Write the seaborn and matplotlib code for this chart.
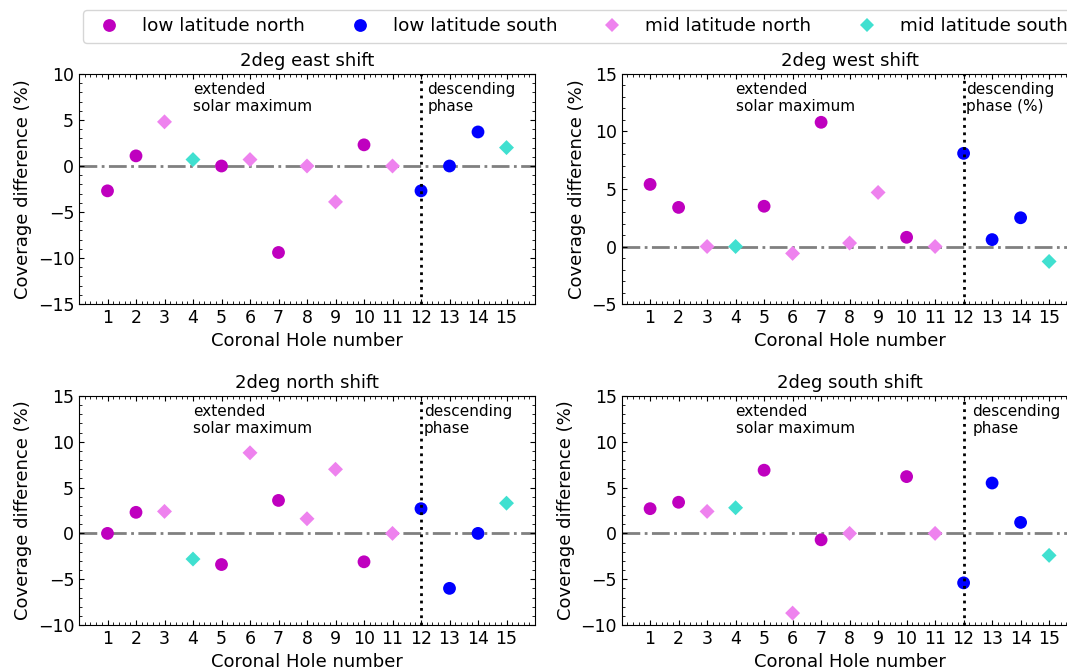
"""Coverage difference of coronal holes after 2deg shifts"""

# Data processing
import numpy as np
import pandas as pd

# Data visualization
import matplotlib
matplotlib.use("Agg")
import matplotlib.pyplot as plt
from matplotlib.lines import Line2D
from matplotlib.ticker import MultipleLocator
import seaborn as sns

# Coronal hole numbers and latitude class of each hole
holes = [1, 2, 3, 4, 5, 6, 7, 8, 9, 10, 11, 12, 13, 14, 15]
lat_class = ["low latitude north", "low latitude north", "mid latitude north", "mid latitude south",
             "low latitude north", "mid latitude north", "low latitude north", "mid latitude north",
             "mid latitude north", "low latitude north", "mid latitude north", "low latitude south",
             "low latitude south", "low latitude south", "mid latitude south"]

# Coverage difference (%) for each shift
east_shift = [-2.7, 1.1, 4.8, 0.7, 0.0, 0.7, -9.4, 0.0, -3.9, 2.3, 0.0, -2.7, 0.0, 3.7, 2.0]
west_shift = [5.4, 3.4, 0.0, 0.0, 3.5, -0.6, 10.8, 0.3, 4.7, 0.8, 0.0, 8.1, 0.6, 2.5, -1.3]
north_shift = [0.0, 2.3, 2.4, -2.8, -3.4, 8.8, 3.6, 1.6, 7.0, -3.1, 0.0, 2.7, -6.0, 0.0, 3.3]
south_shift = [2.7, 3.4, 2.4, 2.8, 6.9, -8.7, -0.7, 0.0, np.nan, 6.2, 0.0, -5.4, 5.5, 1.2, -2.4]

# Panel titles, y limits and phase label
titles = ["2deg east shift", "2deg west shift", "2deg north shift", "2deg south shift"]
ylims = [(-15, 10), (-5, 15), (-10, 15), (-10, 15)]
phase_labels = ["descending\nphase", "descending\nphase (%)", "descending\nphase", "descending\nphase"]
phase_x = [12.22, 12.1, 12.1, 12.3]

# Legend order and styles
lat_order = ["low latitude north", "low latitude south", "mid latitude north", "mid latitude south"]
palette = {"low latitude north": "m", "low latitude south": "b",
           "mid latitude north": "violet", "mid latitude south": "turquoise"}
markers = {"low latitude north": "o", "low latitude south": "o",
           "mid latitude north": "D", "mid latitude south": "D"}
sizes = {"low latitude north": 85, "low latitude south": 85,
         "mid latitude north": 58, "mid latitude south": 58}

sns.set_style("ticks", {"xtick.direction": "in", "ytick.direction": "in",
                        "axes.edgecolor": "black", "text.color": "black",
                        "axes.labelcolor": "black", "xtick.color": "black",
                        "ytick.color": "black"})
plt.rcParams["font.family"] = ["DejaVu Sans"]

# Axes boxes in pixels (left, top, right, bottom) of the 1067x671 picture
W, H = 1067, 671
boxes = [(79, 74, 535, 304), (621.6, 74, 1077.6, 304),
         (79, 396, 535, 625), (621.6, 396, 1077.6, 625)]

fig = plt.figure(figsize=(W / 100, H / 100), dpi=100)

for i, values in enumerate([east_shift, west_shift, north_shift, south_shift]):
    l, t, r, b = boxes[i]
    ax = fig.add_axes([l / W, 1 - b / H, (r - l) / W, (b - t) / H])

    df = pd.DataFrame({"hole": holes, "diff": values, "lat": lat_class}).dropna()

    ax.axhline(0, color="gray", linestyle="-.", linewidth=2, zorder=0.5)
    sns.scatterplot(data=df, x="hole", y="diff", hue="lat", style="lat", size="lat",
                    hue_order=lat_order, style_order=lat_order, size_order=lat_order,
                    palette=palette, markers=markers, sizes=sizes, linewidth=0,
                    legend=False, ax=ax, zorder=2)
    ax.axvline(12, color="k", linestyle=":", linewidth=2, zorder=3)

    ax.set_xlim(0, 16)
    ax.set_ylim(*ylims[i])
    ax.set_xticks(holes)
    ax.xaxis.set_minor_locator(MultipleLocator(0.2))
    ax.yaxis.set_major_locator(MultipleLocator(5))
    ax.yaxis.set_minor_locator(MultipleLocator(1))
    ax.tick_params(which="both", direction="in", top=True, right=True, labelsize=12.5)

    ax.set_title(titles[i], fontsize=13)
    ax.set_xlabel("Coronal Hole number", fontsize=13)
    ax.set_ylabel("Coverage difference (%)", fontsize=13)

    ax.text(4, 0.965, "extended\nsolar maximum", transform=ax.get_xaxis_transform(),
            ha="left", va="top", fontsize=11)
    ax.text(phase_x[i], 0.965, phase_labels[i], transform=ax.get_xaxis_transform(),
            ha="left", va="top", fontsize=11)

# Shared legend on top
handles = [Line2D([], [], linestyle="none", marker=markers[k], color=palette[k],
                  markersize=np.sqrt(sizes[k]), markeredgewidth=0) for k in lat_order]
fig.legend(handles, lat_order, loc="upper left", bbox_to_anchor=(83.3 / W, 1 - 10 / H),
           ncol=4, fontsize=13.2, borderaxespad=0, frameon=True)

fig.savefig("out.png", dpi=100)
